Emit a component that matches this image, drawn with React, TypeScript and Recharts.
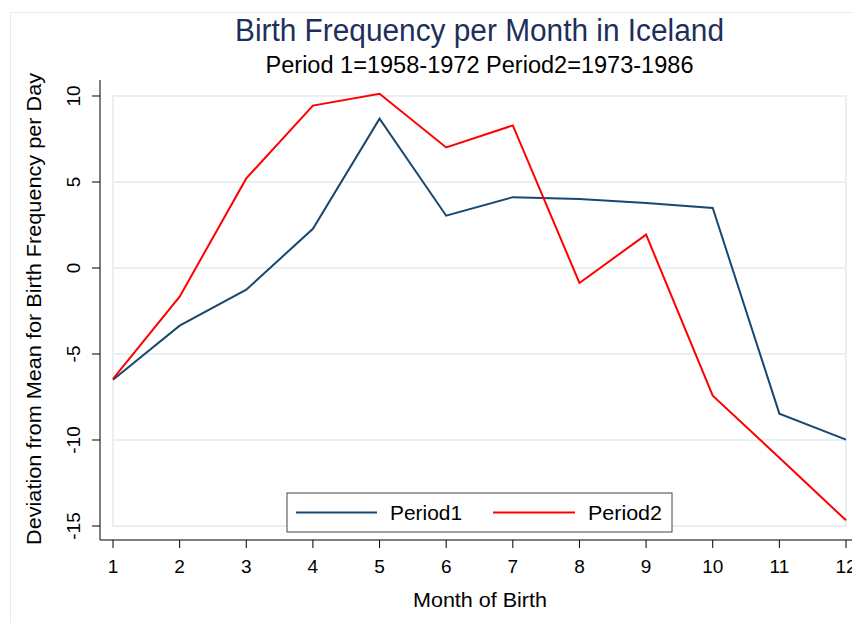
import React from 'react';
import { LineChart, Line, XAxis, YAxis, ReferenceLine, ReferenceArea } from 'recharts';

const months = [1, 2, 3, 4, 5, 6, 7, 8, 9, 10, 11, 12];
const period1 = [-6.5, -3.35, -1.26, 2.28, 8.68, 3.04, 4.12, 4.01, 3.78, 3.49, -8.47, -9.98];
const period2 = [-6.44, -1.67, 5.21, 9.44, 10.13, 7.01, 8.29, -0.87, 1.94, -7.42, -11.03, -14.67];
const yTicks = [-15, -10, -5, 0, 5, 10];
const xTicks = months;
const gridValues = [-10, -5, 0, 5];
const seriesNames = ['Period1', 'Period2'];
const seriesColors = ['#1a476f', '#ff0000'];
const titleText = 'Birth Frequency per Month in Iceland';
const subtitleText = 'Period 1=1958-1972 Period2=1973-1986';
const xTitle = 'Month of Birth';
const yTitle = 'Deviation from Mean for Birth Frequency per Day';

const data = months.map((m, i) => ({ month: m, Period1: period1[i], Period2: period2[i] }));

const FONT = '"Liberation Sans Narrow", "Arial Narrow", "Liberation Sans", Arial, sans-serif';
const TICKFONT = '"Liberation Sans", Arial, sans-serif';
const GRID = '#e8f0f2';

const XTick = (props: any) => {
  const { x, y, payload } = props;
  return (
    <text x={x} y={y + 25} textAnchor="middle" fontFamily={TICKFONT} fontSize={19} fill="#000">
      {payload.value}
    </text>
  );
};

const YTick = (props: any) => {
  const { x, y, payload } = props;
  const cx = x - 16;
  return (
    <text
      x={cx}
      y={y}
      transform={`rotate(-90 ${cx} ${y})`}
      textAnchor="middle"
      dominantBaseline="central"
      fontFamily={TICKFONT}
      fontSize={19}
      fill="#000"
    >
      {payload.value}
    </text>
  );
};

export default function App() {
  return (
    <div style={{ position: 'fixed', left: 0, top: 0, width: 852, height: 623, overflow: 'hidden', background: '#fff' }}>
      <div style={{ position: 'absolute', left: 10, top: 12, width: 900, height: 700, border: '1px solid #e3ecee' }} />
      <div style={{ position: 'absolute', left: 0, top: 0 }}>
        <LineChart width={870} height={623} data={data} margin={{ top: 80, right: 11, bottom: 0, left: 0 }}>
          <XAxis
            dataKey="month"
            type="number"
            domain={[0.805, 12.195]}
            ticks={xTicks}
            interval={0}
            allowDataOverflow
            height={83}
            tickSize={8}
            tickMargin={0}
            stroke="#000"
            tick={<XTick />}
          />
          <YAxis
            type="number"
            domain={[-15.814, 10.93]}
            ticks={yTicks}
            interval={0}
            allowDataOverflow
            width={100}
            tickSize={8}
            tickMargin={2}
            stroke="#000"
            tick={<YTick />}
          />
          <ReferenceArea x1={1} x2={12} y1={-15} y2={10} fill="none" stroke={GRID} strokeWidth={2} ifOverflow="visible" />
          {gridValues.map((v) => (
            <ReferenceLine
              key={v}
              segment={[{ x: 1, y: v }, { x: 12, y: v }]}
              stroke={GRID}
              strokeWidth={2}
              ifOverflow="visible"
            />
          ))}
          <Line type="linear" dataKey="Period1" stroke={seriesColors[0]} strokeWidth={2} dot={false} isAnimationActive={false} />
          <Line type="linear" dataKey="Period2" stroke={seriesColors[1]} strokeWidth={2} dot={false} isAnimationActive={false} />
        </LineChart>
      </div>
      <svg width={852} height={623} style={{ position: 'absolute', left: 0, top: 0, pointerEvents: 'none' }}>
        <text x={479.5} y={41} textAnchor="middle" fontFamily={FONT} fontSize={31} fill="#1e2f5c" textLength={489} lengthAdjust="spacingAndGlyphs">
          {titleText}
        </text>
        <text x={479.5} y={73} textAnchor="middle" fontFamily={FONT} fontSize={23} fill="#000" textLength={428} lengthAdjust="spacingAndGlyphs">
          {subtitleText}
        </text>
        <text transform="translate(41 309) rotate(-90)" textAnchor="middle" fontFamily={FONT} fontSize={20} fill="#000" textLength={472} lengthAdjust="spacingAndGlyphs">
          {yTitle}
        </text>
        <text x={480} y={607} textAnchor="middle" fontFamily={FONT} fontSize={21} fill="#000" textLength={134} lengthAdjust="spacingAndGlyphs">
          {xTitle}
        </text>
        <rect x={287} y={493} width={385} height={39} fill="#fff" stroke="#444" strokeWidth={1} />
        <line x1={296} y1={512.5} x2={377} y2={512.5} stroke={seriesColors[0]} strokeWidth={2} />
        <text x={390} y={520} fontFamily={FONT} fontSize={21} fill="#000" textLength={72} lengthAdjust="spacingAndGlyphs">
          {seriesNames[0]}
        </text>
        <line x1={493} y1={512.5} x2={575} y2={512.5} stroke={seriesColors[1]} strokeWidth={2} />
        <text x={588} y={520} fontFamily={FONT} fontSize={21} fill="#000" textLength={74} lengthAdjust="spacingAndGlyphs">
          {seriesNames[1]}
        </text>
      </svg>
    </div>
  );
}
